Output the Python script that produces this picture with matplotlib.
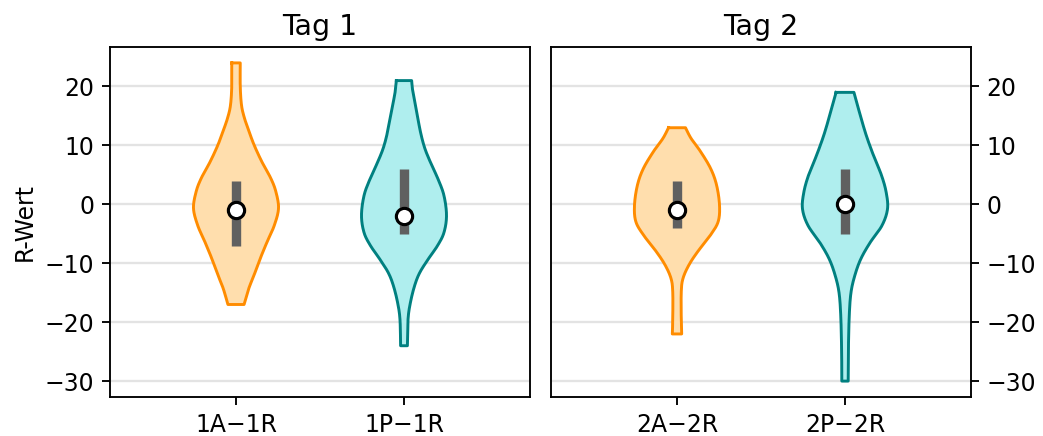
import matplotlib.pyplot as plt
import numpy as np

days = ["Tag 1", "Tag 2"]
groups = [["1A\u22121R", "1P\u22121R"], ["2A\u22122R", "2P\u22122R"]]

# box stats
medians = [[-1, -2], [-1, 0]]
q1 = [[-7, -5], [-4, -5]]
q3 = [[4, 6], [4, 6]]

# violin outlines: y value and relative half width (1 = widest point)
prof_1a_y = [24.0, 20.0, 16.8, 14.6, 12.3, 10.0, 7.2, 4.4, 2.1, -0.7, -3.6, -6.4, -9.2, -12.1, -14.3, -17.0]
prof_1a_w = [0.10, 0.10, 0.13, 0.20, 0.31, 0.43, 0.61, 0.82, 0.94, 1.00, 0.90, 0.73, 0.57, 0.42, 0.30, 0.19]
prof_1p_y = [21.0, 19.0, 15.6, 12.2, 9.5, 7.0, 4.3, 1.5, -1.9, -4.8, -7.0, -9.3, -11.6, -13.8, -16.7, -19.5, -24.0]
prof_1p_w = [0.18, 0.21, 0.30, 0.39, 0.49, 0.63, 0.80, 0.94, 1.00, 0.94, 0.79, 0.57, 0.37, 0.25, 0.15, 0.095, 0.08]
prof_2a_y = [13.0, 11.2, 9.0, 6.1, 3.3, -0.1, -2.9, -5.2, -8.0, -10.3, -12.6, -14.9, -19.4, -22.0]
prof_2a_w = [0.20, 0.33, 0.55, 0.79, 0.93, 1.00, 0.97, 0.79, 0.49, 0.28, 0.14, 0.10, 0.10, 0.11]
prof_2p_y = [19.0, 15.1, 11.7, 8.3, 4.9, 2.0, -0.8, -3.6, -6.5, -9.3, -12.1, -15.0, -18.9, -24.6, -30.0]
prof_2p_w = [0.21, 0.36, 0.50, 0.67, 0.86, 0.97, 1.00, 0.87, 0.59, 0.37, 0.23, 0.14, 0.10, 0.08, 0.075]

profiles = [[(prof_1a_y, prof_1a_w), (prof_1p_y, prof_1p_w)],
            [(prof_2a_y, prof_2a_w), (prof_2p_y, prof_2p_w)]]

edge_colors = ["darkorange", "teal"]
face_colors = ["navajowhite", "paleturquoise"]

plt.rcParams["font.size"] = 11.3
plt.rcParams["axes.linewidth"] = 0.9
plt.rcParams["xtick.major.size"] = 4
plt.rcParams["ytick.major.size"] = 4
plt.rcParams["xtick.major.width"] = 0.9
plt.rcParams["ytick.major.width"] = 0.9


def smooth(y, w, n=20):
    # Catmull-Rom curve through the read-off points
    pts = np.column_stack([y, w]).astype(float)
    pts = np.vstack([pts[0], pts, pts[-1]])
    out = []
    for i in range(1, len(pts) - 2):
        p0, p1, p2, p3 = pts[i - 1], pts[i], pts[i + 1], pts[i + 2]
        t = np.linspace(0, 1, n, endpoint=False)[:, None]
        seg = 0.5 * ((2 * p1) + (-p0 + p2) * t + (2 * p0 - 5 * p1 + 4 * p2 - p3) * t ** 2
                     + (-p0 + 3 * p1 - 3 * p2 + p3) * t ** 3)
        out.append(seg)
    out.append(pts[-2][None, :])
    out = np.vstack(out)
    return out[:, 0], out[:, 1]


fig = plt.figure(figsize=(1043 / 150, 436 / 150), dpi=150)
ax1 = fig.add_axes([110 / 1043, 1 - 397 / 436, 420 / 1043, 350 / 436])
ax2 = fig.add_axes([551 / 1043, 1 - 397 / 436, 420 / 1043, 350 / 436], sharey=ax1)

half = 0.253
for d, ax in enumerate([ax1, ax2]):
    for g in range(2):
        yy, ww = smooth(*profiles[d][g])
        ww = ww * half
        ax.fill_betweenx(yy, g - ww, g + ww, facecolor=face_colors[g],
                         edgecolor="none", zorder=2)
        xs = np.concatenate([g - ww, (g + ww)[::-1], [g - ww[0]]])
        ys = np.concatenate([yy, yy[::-1], [yy[0]]])
        ax.plot(xs, ys, color=edge_colors[g], lw=1.4, zorder=3)
        ax.plot([g, g], [q1[d][g], q3[d][g]], color="#606060", lw=4.5,
                solid_capstyle="butt", zorder=4)
        ax.plot(g, medians[d][g], "o", ms=7.8, mfc="white", mec="black",
                mew=1.5, zorder=5)
    ax.set_xticks([0, 1])
    ax.set_xticklabels(groups[d])
    ax.set_xlim(-0.75, 1.75)
    ax.set_title(days[d], fontsize=13.6)
    ax.yaxis.grid(True, color="#e3e3e3", lw=1.1)
    ax.set_axisbelow(True)

ax1.set_ylim(-32.7, 26.7)
ax1.set_yticks([-30, -20, -10, 0, 10, 20])
ax1.set_ylabel("R-Wert")
ax2.yaxis.tick_right()
ax2.tick_params(axis="y", left=False, labelleft=False, right=True, labelright=True)

fig.savefig("out.png", dpi=150)
